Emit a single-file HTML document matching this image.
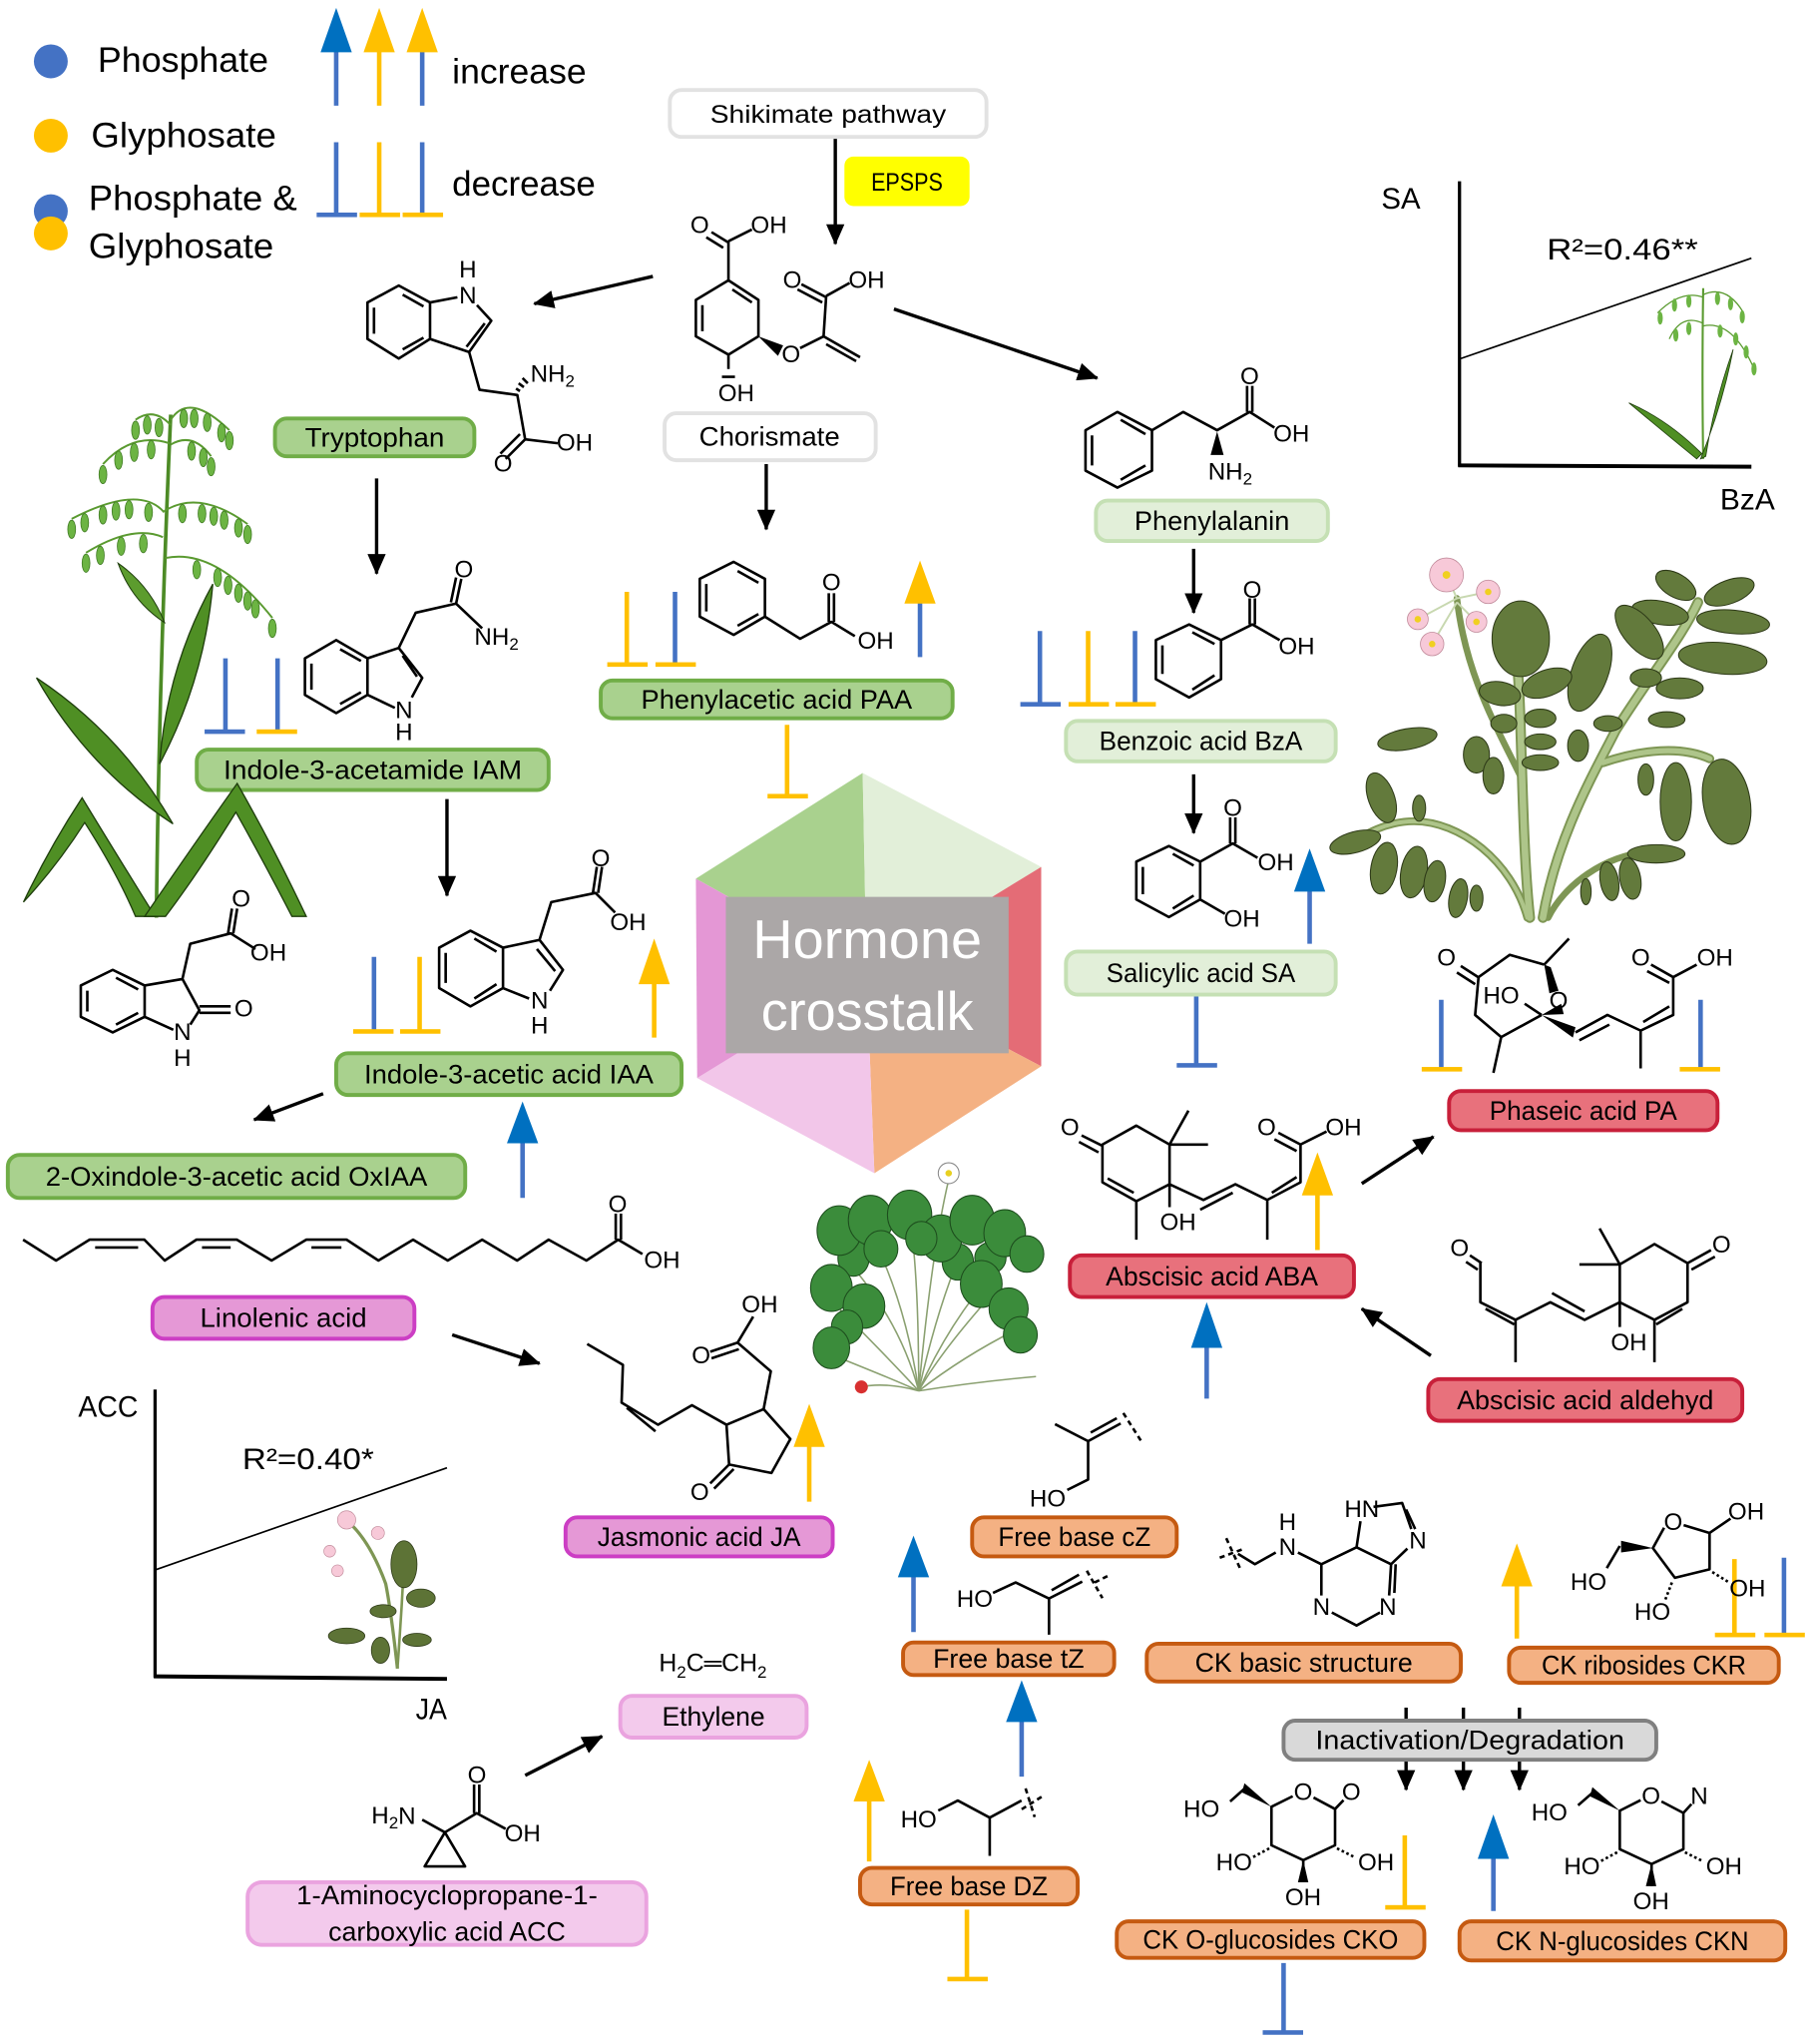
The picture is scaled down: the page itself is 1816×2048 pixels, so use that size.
<!DOCTYPE html>
<html><head><meta charset="utf-8"><style>
html,body{margin:0;padding:0;background:#fff}
svg{display:block}
text{font-family:"Liberation Sans",sans-serif;fill:#000}
</style></head><body>
<svg width="1816" height="2048" viewBox="0 0 1390.5 1568" xmlns="http://www.w3.org/2000/svg">
<defs>
<marker id="ah" markerWidth="16" markerHeight="14" refX="15" refY="7" orient="auto" markerUnits="userSpaceOnUse"><path d="M0,0 L16,7 L0,14 Z" fill="#000"/></marker>
</defs>
<rect width="1390.5" height="1568" fill="#fff"/>

<!-- ===== LEGEND ===== -->
<circle cx="39" cy="47" r="13" fill="#4472c4"/>
<circle cx="39" cy="104" r="13" fill="#ffc000"/>
<circle cx="39" cy="162" r="13" fill="#4472c4"/>
<circle cx="39" cy="179" r="13" fill="#ffc000"/>
<g font-size="27">
<text x="75" y="55" textLength="131" lengthAdjust="spacingAndGlyphs">Phosphate</text>
<text x="70" y="113" textLength="142" lengthAdjust="spacingAndGlyphs">Glyphosate</text>
<text x="68" y="161" textLength="160" lengthAdjust="spacingAndGlyphs">Phosphate &amp;</text>
<text x="68" y="198" textLength="142" lengthAdjust="spacingAndGlyphs">Glyphosate</text>
<text x="347" y="64" textLength="103" lengthAdjust="spacingAndGlyphs">increase</text>
<text x="347" y="150" textLength="110" lengthAdjust="spacingAndGlyphs">decrease</text>
</g>

<g stroke-width="3.5">
<line x1="258" y1="38" x2="258" y2="81" stroke="#4472c4"/><polygon points="246,40 270,40 258,6" fill="#0070c0"/>
<line x1="291" y1="38" x2="291" y2="81" stroke="#ffc000"/><polygon points="279,40 303,40 291,6" fill="#ffc000"/>
<line x1="324" y1="38" x2="324" y2="81" stroke="#4472c4"/><polygon points="312,40 336,40 324,6" fill="#ffc000"/>
<line x1="258" y1="109" x2="258" y2="164" stroke="#4472c4"/><rect x="243" y="163" width="31" height="3.5" fill="#4472c4" stroke="none"/>
<line x1="291" y1="109" x2="291" y2="164" stroke="#ffc000"/><rect x="276" y="163" width="31" height="3.5" fill="#ffc000" stroke="none"/>
<line x1="324" y1="109" x2="324" y2="164" stroke="#4472c4"/><rect x="309" y="163" width="31" height="3.5" fill="#ffc000" stroke="none"/>

<line x1="706" y1="460" x2="706" y2="504" stroke="#4472c4"/><polygon points="694,463 718,463 706,430" fill="#ffc000"/>
<line x1="1005" y1="682" x2="1005" y2="724" stroke="#4472c4"/><polygon points="993,684 1017,684 1005,651" fill="#0070c0"/>
<line x1="502" y1="753" x2="502" y2="796" stroke="#ffc000"/><polygon points="490,755 514,755 502,720" fill="#ffc000"/>
<line x1="401" y1="875" x2="401" y2="919" stroke="#4472c4"/><polygon points="389,877 413,877 401,845" fill="#0070c0"/>
<line x1="1011" y1="915" x2="1011" y2="959" stroke="#ffc000"/><polygon points="999,917 1023,917 1011,884" fill="#ffc000"/>
<line x1="926" y1="1032" x2="926" y2="1073" stroke="#4472c4"/><polygon points="914,1034 938,1034 926,999" fill="#0070c0"/>
<line x1="621" y1="1108" x2="621" y2="1152" stroke="#ffc000"/><polygon points="609,1110 633,1110 621,1077" fill="#ffc000"/>
<line x1="701" y1="1208" x2="701" y2="1252" stroke="#4472c4"/><polygon points="689,1210 713,1210 701,1178" fill="#0070c0"/>
<line x1="784" y1="1319" x2="784" y2="1363" stroke="#4472c4"/><polygon points="772,1321 796,1321 784,1289" fill="#0070c0"/>
<line x1="667" y1="1380" x2="667" y2="1428" stroke="#ffc000"/><polygon points="655,1382 679,1382 667,1350" fill="#ffc000"/>
<line x1="1164" y1="1215" x2="1164" y2="1257" stroke="#ffc000"/><polygon points="1152,1217 1176,1217 1164,1184" fill="#ffc000"/>
<line x1="1146" y1="1424" x2="1146" y2="1466" stroke="#4472c4"/><polygon points="1134,1426 1158,1426 1146,1392" fill="#0070c0"/>

<line x1="173" y1="505" x2="173" y2="561" stroke="#4472c4"/><rect x="157" y="559.5" width="31" height="3.5" fill="#4472c4" stroke="none"/>
<line x1="213" y1="505" x2="213" y2="561" stroke="#4472c4"/><rect x="197" y="559.5" width="31" height="3.5" fill="#ffc000" stroke="none"/>
<line x1="481" y1="454" x2="481" y2="510" stroke="#ffc000"/><rect x="466" y="508" width="31" height="3.5" fill="#ffc000" stroke="none"/>
<line x1="518" y1="454" x2="518" y2="510" stroke="#4472c4"/><rect x="503" y="508" width="31" height="3.5" fill="#ffc000" stroke="none"/>
<line x1="604" y1="556" x2="604" y2="611" stroke="#ffc000"/><rect x="589" y="609" width="31" height="3.5" fill="#ffc000" stroke="none"/>
<line x1="798" y1="484" x2="798" y2="540" stroke="#4472c4"/><rect x="783" y="538.5" width="31" height="3.5" fill="#4472c4" stroke="none"/>
<line x1="835" y1="484" x2="835" y2="540" stroke="#ffc000"/><rect x="820" y="538.5" width="31" height="3.5" fill="#ffc000" stroke="none"/>
<line x1="871" y1="484" x2="871" y2="540" stroke="#4472c4"/><rect x="856" y="538.5" width="31" height="3.5" fill="#ffc000" stroke="none"/>
<line x1="287" y1="734" x2="287" y2="791" stroke="#4472c4"/><rect x="271" y="789.5" width="31" height="3.5" fill="#ffc000" stroke="none"/>
<line x1="322" y1="734" x2="322" y2="791" stroke="#ffc000"/><rect x="307" y="789.5" width="31" height="3.5" fill="#ffc000" stroke="none"/>
<line x1="918" y1="763" x2="918" y2="817" stroke="#4472c4"/><rect x="903" y="815.5" width="31" height="3.5" fill="#4472c4" stroke="none"/>
<line x1="1106" y1="767" x2="1106" y2="820" stroke="#4472c4"/><rect x="1091" y="818.5" width="31" height="3.5" fill="#ffc000" stroke="none"/>
<line x1="1305" y1="767" x2="1305" y2="820" stroke="#4472c4"/><rect x="1289" y="818.5" width="31" height="3.5" fill="#ffc000" stroke="none"/>
<line x1="742" y1="1465" x2="742" y2="1518" stroke="#ffc000"/><rect x="727" y="1516.5" width="31" height="3.5" fill="#ffc000" stroke="none"/>
<line x1="1078" y1="1408" x2="1078" y2="1463" stroke="#ffc000"/><rect x="1063" y="1461.5" width="31" height="3.5" fill="#ffc000" stroke="none"/>
<line x1="985" y1="1506" x2="985" y2="1559" stroke="#4472c4"/><rect x="969" y="1557.5" width="31" height="3.5" fill="#4472c4" stroke="none"/>
<line x1="1331" y1="1196" x2="1331" y2="1254" stroke="#ffc000"/><rect x="1316" y="1252.5" width="31" height="3.5" fill="#ffc000" stroke="none"/>
<line x1="1369" y1="1195" x2="1369" y2="1254" stroke="#4472c4"/><rect x="1354" y="1252.5" width="31" height="3.5" fill="#ffc000" stroke="none"/>
</g>

<!-- ===== BLACK ARROWS ===== -->
<g stroke="#000" stroke-width="2.6" fill="none" marker-end="url(#ah)">
<line x1="641" y1="105" x2="641" y2="187"/>
<line x1="501" y1="212" x2="410" y2="233"/>
<line x1="686" y1="237" x2="842" y2="290"/>
<line x1="289" y1="367" x2="289" y2="440"/>
<line x1="588" y1="356" x2="588" y2="406"/>
<line x1="916" y1="421" x2="916" y2="470"/>
<line x1="343" y1="613" x2="343" y2="687"/>
<line x1="916" y1="594" x2="916" y2="639"/>
<line x1="248" y1="839" x2="195" y2="859"/>
<line x1="347" y1="1024" x2="414" y2="1046"/>
<line x1="1045" y1="908" x2="1100" y2="872"/>
<line x1="1098" y1="1040" x2="1045" y2="1004"/>
<line x1="403" y1="1362" x2="462" y2="1332"/>
<line x1="1079" y1="1345" x2="1079" y2="1373"/>
<line x1="1123" y1="1345" x2="1123" y2="1373"/>
<line x1="1166" y1="1345" x2="1166" y2="1373"/>
</g>
<g stroke="#000" stroke-width="2.6">
<line x1="1079" y1="1310" x2="1079" y2="1322"/>
<line x1="1123" y1="1310" x2="1123" y2="1322"/>
<line x1="1166" y1="1310" x2="1166" y2="1322"/>
</g>

<!-- ===== HEXAGON ===== -->
<g>
<polygon points="662,593 534,674 665,747" fill="#a9d18e"/>
<polygon points="662,593 799,665 665,747" fill="#e2efd9"/>
<polygon points="799,665 799,818 665,747" fill="#e46c76"/>
<polygon points="799,818 671,900 665,747" fill="#f4b183"/>
<polygon points="671,900 535,827 665,747" fill="#f2c6e9"/>
<polygon points="535,827 534,674 665,747" fill="#e497d5"/>
<rect x="557" y="688" width="217" height="120" fill="#aba7a7"/>
<text x="665.5" y="735" font-size="42" text-anchor="middle" textLength="176" lengthAdjust="spacingAndGlyphs" style="fill:#fff">Hormone</text>
<text x="665.5" y="790" font-size="42" text-anchor="middle" textLength="163" lengthAdjust="spacingAndGlyphs" style="fill:#fff">crosstalk</text>
</g>

<!-- ===== LABEL BOXES ===== -->
<g stroke-width="3">
<rect x="514" y="69" width="243" height="36" rx="9" fill="#fff" stroke="#e2e2e2"/>
<rect x="648" y="120" width="96" height="38" rx="7" fill="#ffff00" stroke="none"/>
<rect x="510" y="317" width="162" height="36" rx="9" fill="#fff" stroke="#e2e2e2"/>
<rect x="211" y="321" width="153" height="29" rx="9" fill="#a9d18e" stroke="#70ad47"/>
<rect x="841" y="384" width="178" height="31" rx="9" fill="#e2efd9" stroke="#c5e0b4"/>
<rect x="461" y="522" width="270" height="29" rx="9" fill="#a9d18e" stroke="#70ad47"/>
<rect x="151" y="575" width="270" height="31" rx="9" fill="#a9d18e" stroke="#70ad47"/>
<rect x="818" y="553" width="207" height="31" rx="9" fill="#e2efd9" stroke="#c5e0b4"/>
<rect x="818" y="730" width="207" height="33" rx="9" fill="#e2efd9" stroke="#c5e0b4"/>
<rect x="1112" y="837" width="206" height="30" rx="9" fill="#e8717c" stroke="#c8203a"/>
<rect x="821" y="963" width="218" height="32" rx="9" fill="#e8717c" stroke="#c8203a"/>
<rect x="1096" y="1058" width="241" height="32" rx="9" fill="#e8717c" stroke="#c8203a"/>
<rect x="258" y="808" width="265" height="32" rx="9" fill="#a9d18e" stroke="#70ad47"/>
<rect x="6" y="886" width="351" height="33" rx="9" fill="#a9d18e" stroke="#70ad47"/>
<rect x="117" y="995" width="201" height="32" rx="9" fill="#e598d6" stroke="#cc3ec4"/>
<rect x="434" y="1164" width="205" height="30" rx="9" fill="#e598d6" stroke="#cc3ec4"/>
<rect x="476" y="1301" width="143" height="32" rx="9" fill="#f3caec" stroke="#eaa3df"/>
<rect x="190" y="1444" width="306" height="48" rx="11" fill="#f3caec" stroke="#eaa3df"/>
<rect x="746" y="1164" width="157" height="30" rx="9" fill="#f4b183" stroke="#c55a11"/>
<rect x="693" y="1260" width="162" height="25" rx="8" fill="#f4b183" stroke="#c55a11"/>
<rect x="880" y="1261" width="241" height="29" rx="9" fill="#f4b183" stroke="#c55a11"/>
<rect x="1158" y="1264" width="207" height="27" rx="9" fill="#f4b183" stroke="#c55a11"/>
<rect x="985" y="1320" width="286" height="30" rx="9" fill="#d9d9d9" stroke="#808080"/>
<rect x="660" y="1433" width="167" height="28" rx="9" fill="#f4b183" stroke="#c55a11"/>
<rect x="857" y="1474" width="236" height="28" rx="9" fill="#f4b183" stroke="#c55a11"/>
<rect x="1120" y="1474" width="250" height="30" rx="9" fill="#f4b183" stroke="#c55a11"/>
</g>
<g font-size="20.5" text-anchor="middle">
<text x="635.5" y="94" font-size="19" textLength="181" lengthAdjust="spacingAndGlyphs">Shikimate pathway</text>
<text x="696" y="146" font-size="19" textLength="55" lengthAdjust="spacingAndGlyphs">EPSPS</text>
<text x="590.5" y="342" textLength="108" lengthAdjust="spacingAndGlyphs">Chorismate</text>
<text x="287.5" y="342.5" textLength="107" lengthAdjust="spacingAndGlyphs">Tryptophan</text>
<text x="930" y="406.5" textLength="119" lengthAdjust="spacingAndGlyphs">Phenylalanin</text>
<text x="596" y="543.5" textLength="208" lengthAdjust="spacingAndGlyphs">Phenylacetic acid PAA</text>
<text x="286" y="597.5" textLength="229" lengthAdjust="spacingAndGlyphs">Indole-3-acetamide IAM</text>
<text x="921.5" y="575.5" textLength="156" lengthAdjust="spacingAndGlyphs">Benzoic acid BzA</text>
<text x="921.5" y="753.5" textLength="145" lengthAdjust="spacingAndGlyphs">Salicylic acid SA</text>
<text x="1215" y="859" textLength="144" lengthAdjust="spacingAndGlyphs">Phaseic acid PA</text>
<text x="930" y="986" textLength="163" lengthAdjust="spacingAndGlyphs">Abscisic acid ABA</text>
<text x="1216.5" y="1081" textLength="197" lengthAdjust="spacingAndGlyphs">Abscisic acid aldehyd</text>
<text x="390.5" y="831" textLength="222" lengthAdjust="spacingAndGlyphs">Indole-3-acetic acid IAA</text>
<text x="181.5" y="909.5" textLength="293" lengthAdjust="spacingAndGlyphs">2-Oxindole-3-acetic acid OxIAA</text>
<text x="217.5" y="1018" textLength="128" lengthAdjust="spacingAndGlyphs">Linolenic acid</text>
<text x="536.5" y="1186" textLength="156" lengthAdjust="spacingAndGlyphs">Jasmonic acid JA</text>
<text x="547.5" y="1324" textLength="79" lengthAdjust="spacingAndGlyphs">Ethylene</text>
<text x="343" y="1461" textLength="231" lengthAdjust="spacingAndGlyphs">1-Aminocyclopropane-1-</text>
<text x="343" y="1489" textLength="182" lengthAdjust="spacingAndGlyphs">carboxylic acid ACC</text>
<text x="824.5" y="1186" textLength="117" lengthAdjust="spacingAndGlyphs">Free base cZ</text>
<text x="774" y="1279.5" textLength="116" lengthAdjust="spacingAndGlyphs">Free base tZ</text>
<text x="1000.5" y="1282.5" textLength="167" lengthAdjust="spacingAndGlyphs">CK basic structure</text>
<text x="1261.5" y="1284.5" textLength="157" lengthAdjust="spacingAndGlyphs">CK ribosides CKR</text>
<text x="1128" y="1342" textLength="237" lengthAdjust="spacingAndGlyphs">Inactivation/Degradation</text>
<text x="743.5" y="1454" textLength="121" lengthAdjust="spacingAndGlyphs">Free base DZ</text>
<text x="975" y="1495" textLength="196" lengthAdjust="spacingAndGlyphs">CK O-glucosides CKO</text>
<text x="1245" y="1496" textLength="194" lengthAdjust="spacingAndGlyphs">CK N-glucosides CKN</text>
</g>

<!-- ===== CHEMICAL STRUCTURES (bonds) ===== -->
<g stroke="#000" stroke-width="2" fill="none" stroke-linejoin="round">
<path d="M559,185 L559,215 M559,186 L546,178 M555,190 L542,182 M559,185 L577,176
M559,215 L582,230 L582,258 L559,272 L534,258 L534,230 Z
M562,222 L577,232 M539,234 L539,254 M559,272 L559,283 M554,289 L564,289
M614,267 L632,258 L634,227 M634,228 L615,218 M631,232 L612,222 M634,227 L652,217
M632,258 L660,274 M634,264 L657,277"/>
<path d="M306,219 L330,232 L330,260 L306,275 L282,260 L282,232 Z
M287,236 L287,256 M309,226 L325,235 M309,268 L325,259
M330,232 L351,228 M366,234 L377,246 L360,270 L330,260 M372,248 L358,266
M360,270 L368,299 L397,303 L403,337 L428,340
M403,337 L388,352 M399,333 L384,348"/>
<path d="M399,300 L396,298 M402,297 L398,294 M405,294 L401,290" stroke-width="2"/>
<path d="M258,491 L282,505 L282,533 L258,547 L234,533 L234,505 Z
M239,509 L239,529 M261,498 L277,507 M261,540 L277,531
M282,505 L306,497 L324,520 L316,535 M303,543 L282,533 M309,503 L320,519
M306,497 L319,470 L350,463 L370,482 M350,463 L354,444 M346,462 L350,443"/>
<path d="M563,431 L587,444 L587,473 L563,487 L537,473 L537,444 Z
M542,448 L542,469 M566,438 L582,447 M566,480 L582,471
M587,473 L614,490 L638,477 L656,488 M640,477 L640,455 M636,477 L636,455"/>
<path d="M857.5,316 L884,330 L884,361 L857.5,374 L833,361 L833,330 Z
M838,334 L838,357 M860,322 L879,333 M860,368 L879,357
M884,330 L908,316 L934,330 L959,316 L978,328 M961,316 L961,296 M957,316 L957,296"/>
<path d="M912.5,479 L937,491 L937,521 L912.5,535 L887,521 L887,491 Z
M892,495 L892,517 M915,485 L932,494 M915,529 L932,518
M937,491 L961,479 L982,491 M963,479 L963,459 M959,479 L959,459"/>
<path d="M897,649 L921,661 L921,690 L897,703.5 L872,690 L872,661 Z
M877,665 L877,686 M900,655 L916,664 M900,697 L916,687
M921,661 L946,647 L965,658 M948,647 L948,627 M944,647 L944,627 M921,690 L940,701"/>
<path d="M337,727 L361,714 L386,727 L386,758 L361,772 L337,758 Z
M342,731 L342,754 M364,720 L381,730 M364,766 L381,755
M386,727 L414,721 L432,744 L422,760 M406,766 L386,758 M412,728 L426,745
M414,721 L423,692 L457,685 L472,700 M459,685 L462,665 M455,685 L458,665"/>
<path d="M86.5,744 L111,756 L111,780 L86.5,792 L62,780 L62,756 Z
M67,760 L67,776 M89,750 L106,759 M89,786 L106,777
M111,756 L140,751 L153,775 L146,786 M133,790 L111,780
M153,777 L177,777 M153,772 L177,772
M140,751 L146,724 L177,716 L196,728 M179,716 L182,697 M175,716 L178,697"/>
<path d="M17.7,951 L43,967 L68.7,951 L110.8,951 L126.4,967 L150.7,951 L181.8,951 L208.4,967 L235,951 L266,951 L290.4,967 L317,951 L343.6,967 L370,951 L396.8,967 L421,951 L450,967 L474.4,951 L493,962
M73,957 L106,957 M155,957 L177,957 M239,957 L262,957
M476.5,951 L476.5,931 M472.5,951 L472.5,931"/>
<path d="M450.6,1031 L478,1047 L477,1076 L505,1093 L531,1078 L557.5,1093 L586,1081 L591.5,1052 L566,1030 L578,1010
M481,1080 L503,1098
M566,1030 L545,1037 M567,1035 L546,1042
M557.5,1093 L559.5,1123.5 L592,1130 L606.5,1104 L586,1081
M559.5,1123.5 L545,1138 M563,1127 L548,1142"/>
<path d="M830,871 L846,879 M828,876 L843,884
M846,878 L872,863.5 L897.5,878 L897.5,908.5 L872,921.5 L846,907 Z
M850,904 L870,915 M897.5,878 L912,852 M897.5,878 L927,878 M872,921.5 L872,951
M897.5,908.5 L897.5,926
M897.5,908.5 L923.5,920.5 L948,908.5 L972.5,920.5 L998,907 L998,878
M921,928 L946,915 M976,915 L995,903 M972.5,920.5 L972.5,951
M998,878 L981,869 M995,883 L978,874 M998,878 L1018,868"/>
<path d="M1128,963 L1137,969 M1125,968 L1134,974
M1136,969 L1136,999 L1163,1012.5 L1189.7,999 L1216,1012.5 L1243,999
M1140,1004 L1162,1016 M1163,1012.5 L1163,1045 M1191,992 L1216,1006
M1243,999 L1243,970 L1269.6,954.4 L1295,969 L1295,999 L1269.6,1012.5 Z
M1243,970 L1227.5,942.4 M1243,970 L1212,970
M1295,969 L1313,959 M1298,974 L1316,964 M1291,1004 L1271,1016
M1269.6,1012.5 L1269.6,1045 M1243,999 L1243,1018"/>
<path d="M1121,741 L1135,750 M1118,746 L1132,755
M1134.6,749.6 L1158.6,732.5 L1185,740 M1134.6,749.6 L1132,778.6 L1152,795.6 L1183,778.6
M1185,740 L1204,720 M1152,795.6 L1146,823 M1170,770 L1183,778.6
M1209,792 L1233.5,778.6 L1259,790.6 L1284,778.6 L1284,749.6
M1212,798 L1235,786 M1259,790.6 L1259,819.6 M1261,784 L1281,772
M1284,749.6 L1267,740 M1281,754 L1264,745 M1284,749.6 L1302,740"/>
<polygon points="1185,740 1190,742 1196,760 1189,762" fill="#000" stroke="none"/>
<polygon points="1183,778.6 1209,788 1207,796" fill="#000" stroke="none"/>
<polygon points="1183,778.6 1198,770 1200,778" fill="#000" stroke="none"/>
<path d="M341.4,1405.7 L325.9,1431.8 L356.9,1431.8 Z M341.4,1405.7 L365.8,1391 L388,1403
M367.8,1391 L367.8,1369 M363.8,1391 L363.8,1369 M341.4,1405.7 L324,1396"/>
<path d="M809.6,1092.5 L835,1105.6 L860,1092 M837,1099 L857,1088 M835,1105.6 L835,1135 L819,1143"/>
<path d="M862,1084 L876,1106" stroke-dasharray="4,3"/>
<path d="M762,1222 L779.4,1214 L805,1226.3 L830.5,1213.3 M807,1220 L828,1208 M805,1226.3 L805,1254"/>
<path d="M834,1205 L846,1226 M840,1214 L852,1208" stroke-dasharray="4,3"/>
<path d="M720,1389 L735,1381.3 L759.5,1394.4 L783.9,1381.3 M759.5,1394.4 L759.5,1423.7"/>
<path d="M787,1372 L794,1394 M784,1388 L800,1378" stroke-dasharray="4,3"/>
<path d="M950,1192 L963,1200 L979,1191 M996,1191 L1014,1200 L1041,1187 L1044,1167 M1054,1156 L1076,1153 L1083,1173
M1079,1158 L1086,1173 M1080,1188 L1067.5,1200 L1041,1187 M1067.5,1200 L1066,1224 M1071,1200 L1070,1222
M1059,1237 L1041,1247 L1022,1237 M1014,1200 L1014,1224"/>
<path d="M941,1180 L952,1204 M936,1195 L955,1188" stroke-dasharray="4,3"/>
<path d="M1292,1170 L1311.9,1176 L1311.9,1203.9 L1285.3,1210.4 L1268.4,1187.6 L1277,1172
M1311.9,1176 L1328,1165 M1243,1186 L1233,1203"/>
<path d="M1314,1206 L1327,1214 M1283,1214 L1278,1227" stroke-dasharray="2,2"/>
<polygon points="1268.4,1187.6 1244,1182 1244,1191" fill="#000" stroke="none"/>
<path d="M1008,1379 L1024.5,1387.8 L1024.5,1415.6 L1000.1,1427 L975.7,1415.6 L975.7,1386.1 L992,1378
M1024.5,1387.8 L1031,1381 M1000.1,1427 L1000.1,1444 M955.8,1371.5 L944,1382"/>
<path d="M1026,1418 L1040,1425 M974,1418 L961,1425" stroke-dasharray="2,2"/>
<polygon points="975.7,1386.1 955,1368 953,1375" fill="#000" stroke="none"/>
<polygon points="1000.1,1427 996,1444 1004,1444" fill="#000" stroke="none"/>
<path d="M1275,1382 L1291.8,1390.8 L1291.8,1418.6 L1267.4,1430 L1243,1418.6 L1243,1389.1 L1259,1381
M1291.8,1390.8 L1298,1384 M1267.4,1430 L1267.4,1447 M1223,1374.5 L1211,1385"/>
<path d="M1293,1421 L1307,1428 M1241,1421 L1228,1428" stroke-dasharray="2,2"/>
<polygon points="1243,1389.1 1222,1371 1220,1378" fill="#000" stroke="none"/>
<polygon points="1267.4,1430 1263,1447 1271,1447" fill="#000" stroke="none"/>
</g>
<polygon points="582,258 601,265 597,273" fill="#000"/>
<polygon points="934,331 929,349 939,349" fill="#000"/>

<!-- ===== ATOM LABELS ===== -->
<g font-size="18.5" text-anchor="middle" dominant-baseline="central">
<text x="537" y="173">O</text><text x="590" y="173">OH</text>
<text x="607" y="272">O</text><text x="608" y="215">O</text><text x="665" y="215">OH</text>
<text x="565" y="302">OH</text>
<text x="359" y="207">H</text><text x="359" y="227">N</text>
<text x="424" y="287">NH<tspan font-size="13" dy="5">2</tspan></text>
<text x="386" y="356">O</text><text x="441" y="340">OH</text>
<text x="310" y="545">N</text><text x="310" y="562">H</text>
<text x="356" y="437">O</text><text x="381" y="489">NH<tspan font-size="13" dy="5">2</tspan></text>
<text x="638" y="447">O</text><text x="672" y="492">OH</text>
<text x="959" y="289">O</text><text x="991" y="333">OH</text>
<text x="944" y="362">NH<tspan font-size="13" dy="5">2</tspan></text>
<text x="961" y="453">O</text><text x="995" y="496">OH</text>
<text x="946" y="620">O</text><text x="979" y="662">OH</text><text x="953" y="705">OH</text>
<text x="414" y="768">N</text><text x="414" y="787">H</text>
<text x="461" y="659">O</text><text x="482" y="708">OH</text>
<text x="187" y="774">O</text><text x="140" y="792">N</text><text x="140" y="812">H</text>
<text x="185" y="690">O</text><text x="206" y="731">OH</text>
<text x="474" y="924">O</text><text x="508" y="967">OH</text>
<text x="583" y="1001">OH</text><text x="538" y="1040">O</text><text x="537" y="1145">O</text>
<text x="821" y="865">O</text><text x="904" y="938">OH</text>
<text x="972" y="865">O</text><text x="1031" y="865">OH</text>
<text x="1120" y="958">O</text><text x="1321" y="955">O</text><text x="1250" y="1030">OH</text>
<text x="1110" y="735">O</text><text x="1152" y="764">HO</text><text x="1196" y="768">O</text>
<text x="1259" y="735">O</text><text x="1316" y="735">OH</text>
<text x="302" y="1393">H<tspan font-size="13" dy="5">2</tspan><tspan dy="-5">N</tspan></text>
<text x="366" y="1362">O</text><text x="401" y="1407">OH</text>
<text x="804" y="1150">HO</text>
<text x="748" y="1227">HO</text>
<text x="705" y="1396">HO</text>
<text x="988" y="1168">H</text><text x="988" y="1187">N</text>
<text x="1045" y="1158">HN</text><text x="1088" y="1182">N</text>
<text x="1065" y="1233">N</text><text x="1014" y="1233">N</text>
<text x="1284" y="1168">O</text><text x="1340" y="1160">OH</text><text x="1341" y="1219">OH</text>
<text x="1268" y="1237">HO</text><text x="1219" y="1214">HO</text>
<text x="1000" y="1375">O</text><text x="1037" y="1375">O</text>
<text x="1056" y="1429">OH</text><text x="947" y="1429">HO</text><text x="1000" y="1456">OH</text><text x="922" y="1388">HO</text>
<text x="1267" y="1378">O</text><text x="1304" y="1378">N</text>
<text x="1323" y="1432">OH</text><text x="1214" y="1432">HO</text><text x="1267" y="1459">OH</text><text x="1189" y="1391">HO</text>
</g>
<text x="547" y="1282" font-size="19" text-anchor="middle">H<tspan font-size="13" dy="5">2</tspan><tspan dy="-5">C═CH</tspan><tspan font-size="13" dy="5">2</tspan></text>

<!-- ===== GRAPHS ===== -->
<g stroke="#000" fill="none">
<line x1="1120" y1="139" x2="1120" y2="358" stroke-width="2.5"/>
<line x1="1119" y1="357" x2="1344" y2="358" stroke-width="3"/>
<line x1="1121" y1="275" x2="1344" y2="198" stroke-width="1.3"/>
<line x1="119" y1="1066" x2="119" y2="1287" stroke-width="2.5"/>
<line x1="118" y1="1286" x2="343" y2="1288" stroke-width="3"/>
<line x1="120" y1="1204" x2="343" y2="1126" stroke-width="1.3"/>
</g>
<g font-size="23">
<text x="1060" y="160" textLength="30" lengthAdjust="spacingAndGlyphs">SA</text>
<text x="1187" y="199" textLength="116" lengthAdjust="spacingAndGlyphs">R²=0.46**</text>
<text x="1320" y="391" textLength="42" lengthAdjust="spacingAndGlyphs">BzA</text>
<text x="60" y="1087" textLength="46" lengthAdjust="spacingAndGlyphs">ACC</text>
<text x="186" y="1127" textLength="101" lengthAdjust="spacingAndGlyphs">R²=0.40*</text>
<text x="319" y="1319" textLength="24" lengthAdjust="spacingAndGlyphs">JA</text>
</g>

<!-- ===== OAT PLANT (left) ===== -->
<g>
<path d="M120,704 Q122,520 131,318" stroke="#4d8b26" stroke-width="2.8" fill="none"/>
<path d="M132.7,632 Q93,563 28,520 Q67,589 132.7,632 Z" fill="#4f8f24" stroke="#1e3d0c" stroke-width="1"/>
<path d="M122.5,586 Q157,521 163.3,448 Q128,512 122.5,586 Z" fill="#4f8f24" stroke="#1e3d0c" stroke-width="1"/>
<path d="M126.3,477.6 Q115,449 90.6,432 Q101,461 126.3,477.6 Z" fill="#5c9c2e" stroke="#1e3d0c" stroke-width="0.8"/>
<path d="M119,703 Q86,650 63,612 Q38,650 18,692 Q44,664 65,631 Q90,670 104,703 Z" fill="#4f8f24" stroke="#1e3d0c" stroke-width="1"/>
<path d="M111,703 Q150,646 182,601 Q210,650 235,703 L224,703 Q204,664 181,623 Q152,670 127,703 Z" fill="#4f8f24" stroke="#1e3d0c" stroke-width="1"/>
<g stroke="#5a9a30" stroke-width="1.5" fill="none">
<path d="M131,326 Q118,312 104,322"/>
<path d="M131,322 Q145,300 176,330"/>
<path d="M130,340 Q102,331 79,356"/>
<path d="M131,341 Q148,331 162,350"/>
<path d="M126,393 Q107,371 55,398"/>
<path d="M126,392 Q153,375 190,402"/>
<path d="M125,412 Q102,402 66,424"/>
<path d="M127,428 Q166,420 209,474"/>
</g>
<g fill="#6cb443" stroke="#3f7a22" stroke-width="0.6">
<ellipse cx="122" cy="328" rx="3" ry="7"/><ellipse cx="113" cy="326" rx="3" ry="7"/><ellipse cx="104" cy="330" rx="3" ry="7"/>
<ellipse cx="141" cy="321" rx="3" ry="7"/><ellipse cx="149" cy="321" rx="3" ry="7"/><ellipse cx="159" cy="324" rx="3" ry="7"/><ellipse cx="170" cy="332" rx="3" ry="7"/><ellipse cx="176" cy="338" rx="3" ry="7"/>
<ellipse cx="116" cy="345" rx="3" ry="7"/><ellipse cx="103" cy="347" rx="3" ry="7"/><ellipse cx="91" cy="353" rx="3" ry="7"/><ellipse cx="79" cy="364" rx="3" ry="7"/>
<ellipse cx="147" cy="346" rx="3" ry="7"/><ellipse cx="156" cy="351" rx="3" ry="7"/><ellipse cx="162" cy="358" rx="3" ry="7"/>
<ellipse cx="114" cy="393" rx="3" ry="7"/><ellipse cx="99" cy="391" rx="3" ry="7"/><ellipse cx="79" cy="395" rx="3" ry="7"/><ellipse cx="65" cy="401" rx="3" ry="7"/><ellipse cx="55" cy="406" rx="3" ry="7"/><ellipse cx="89" cy="392" rx="3" ry="7"/>
<ellipse cx="140" cy="394" rx="3" ry="7"/><ellipse cx="155" cy="394" rx="3" ry="7"/><ellipse cx="172" cy="399" rx="3" ry="7"/><ellipse cx="183" cy="405" rx="3" ry="7"/><ellipse cx="190" cy="410" rx="3" ry="7"/><ellipse cx="164" cy="396" rx="3" ry="7"/>
<ellipse cx="110" cy="417" rx="3" ry="7"/><ellipse cx="93" cy="419" rx="3" ry="7"/><ellipse cx="77" cy="426" rx="3" ry="7"/><ellipse cx="66" cy="432" rx="3" ry="7"/>
<ellipse cx="151" cy="437" rx="3" ry="7"/><ellipse cx="167" cy="443" rx="3" ry="7"/><ellipse cx="183" cy="455" rx="3" ry="7"/><ellipse cx="196" cy="467" rx="3" ry="7"/><ellipse cx="209" cy="482" rx="3" ry="7"/><ellipse cx="175" cy="449" rx="3" ry="7"/><ellipse cx="190" cy="461" rx="3" ry="7"/>
</g>
</g>

<!-- ===== SMALL OAT in SA graph ===== -->
<g>
<path d="M1307,352 Q1306,290 1307,221" stroke="#5a9a30" stroke-width="1.6" fill="none"/>
<path d="M1302,352 Q1275,330 1250,309 Q1280,322 1306,348 Z" fill="#4f8f24" stroke="#1e3d0c" stroke-width="0.6"/>
<path d="M1305,352 Q1322,310 1330,268 Q1315,310 1309,350 Z" fill="#4f8f24" stroke="#1e3d0c" stroke-width="0.6"/>
<g stroke="#5a9a30" stroke-width="1" fill="none">
<path d="M1307,228 Q1290,222 1272,240"/><path d="M1307,226 Q1325,218 1338,240"/>
<path d="M1307,248 Q1290,240 1281,260"/><path d="M1307,250 Q1330,245 1347,285"/>
</g>
<g fill="#6cb443">
<ellipse cx="1296" cy="231" rx="2" ry="5"/><ellipse cx="1285" cy="234" rx="2" ry="5"/><ellipse cx="1274" cy="244" rx="2" ry="5"/>
<ellipse cx="1318" cy="229" rx="2" ry="5"/><ellipse cx="1328" cy="233" rx="2" ry="5"/><ellipse cx="1337" cy="243" rx="2" ry="5"/>
<ellipse cx="1296" cy="252" rx="2" ry="5"/><ellipse cx="1286" cy="257" rx="2" ry="5"/>
<ellipse cx="1320" cy="254" rx="2" ry="5"/><ellipse cx="1332" cy="260" rx="2" ry="5"/><ellipse cx="1340" cy="270" rx="2" ry="5"/><ellipse cx="1346" cy="283" rx="2" ry="5"/>
</g>
</g>

<!-- ===== POTATO (right) ===== -->
<g>
<g stroke="#7e9654" fill="none" stroke-linecap="round">
<path d="M1174,704 C1168,650 1168,560 1165,518" stroke-width="8"/>
<path d="M1169,600 C1150,560 1125,520 1118,459" stroke-width="5"/>
<path d="M1184,704 C1195,640 1225,590 1240,560 C1265,520 1290,490 1303,462" stroke-width="8"/>
<path d="M1230,585 C1260,575 1290,572 1312,582" stroke-width="7"/>
<path d="M1172,704 C1160,660 1120,630 1085,630 C1065,630 1045,640 1038,648" stroke-width="6"/>
<path d="M1188,704 C1200,680 1230,655 1270,653" stroke-width="5"/>
</g>
<g stroke="#aec58a" fill="none" stroke-linecap="round">
<path d="M1174,704 C1168,650 1168,560 1165,518" stroke-width="5"/>
<path d="M1184,704 C1195,640 1225,590 1240,560 C1265,520 1290,490 1303,462" stroke-width="5"/>
<path d="M1230,585 C1260,575 1290,572 1312,582" stroke-width="4"/>
<path d="M1172,704 C1160,660 1120,630 1085,630 C1065,630 1045,640 1038,648" stroke-width="3"/>
</g>
<g fill="#637a3c" stroke="#2e3a18" stroke-width="0.8">
<ellipse cx="1286" cy="449" rx="17" ry="9" transform="rotate(30 1286 449)"/>
<ellipse cx="1327" cy="454" rx="20" ry="9" transform="rotate(-20 1327 454)"/>
<ellipse cx="1274" cy="470" rx="22" ry="9" transform="rotate(10 1274 470)"/>
<ellipse cx="1330" cy="477" rx="28" ry="9" transform="rotate(5 1330 477)"/>
<ellipse cx="1258" cy="485" rx="25" ry="12" transform="rotate(50 1258 485)"/>
<ellipse cx="1322" cy="505" rx="34" ry="12" transform="rotate(5 1322 505)"/>
<ellipse cx="1220" cy="516" rx="14" ry="31" transform="rotate(20 1220 516)"/>
<ellipse cx="1167" cy="490" rx="22" ry="29"/>
<ellipse cx="1187" cy="524" rx="20" ry="10" transform="rotate(-20 1187 524)"/>
<ellipse cx="1151" cy="532" rx="16" ry="9" transform="rotate(10 1151 532)"/>
<ellipse cx="1263" cy="520" rx="12" ry="7"/>
<ellipse cx="1289" cy="528" rx="18" ry="8"/>
<ellipse cx="1182" cy="551" rx="12" ry="7"/>
<ellipse cx="1154" cy="555" rx="10" ry="7"/>
<ellipse cx="1279" cy="552" rx="14" ry="6"/>
<ellipse cx="1080" cy="567" rx="23" ry="8" transform="rotate(-10 1080 567)"/>
<ellipse cx="1234" cy="555" rx="11" ry="6"/>
<ellipse cx="1211" cy="572" rx="8" ry="12"/>
<ellipse cx="1182" cy="569" rx="12" ry="6"/>
<ellipse cx="1133" cy="579" rx="10" ry="14"/>
<ellipse cx="1146" cy="595" rx="8" ry="14"/>
<ellipse cx="1182" cy="585" rx="14" ry="6"/>
<ellipse cx="1286" cy="615" rx="12" ry="30"/>
<ellipse cx="1325" cy="615" rx="18" ry="33" transform="rotate(-10 1325 615)"/>
<ellipse cx="1263" cy="598" rx="6" ry="12"/>
<ellipse cx="1060" cy="612" rx="10" ry="20" transform="rotate(-20 1060 612)"/>
<ellipse cx="1089" cy="620" rx="5" ry="10"/>
<ellipse cx="1040" cy="646" rx="20" ry="8" transform="rotate(-15 1040 646)"/>
<ellipse cx="1062" cy="666" rx="10" ry="20" transform="rotate(10 1062 666)"/>
<ellipse cx="1085" cy="669" rx="10" ry="20" transform="rotate(10 1085 669)"/>
<ellipse cx="1101" cy="676" rx="8" ry="16" transform="rotate(10 1101 676)"/>
<ellipse cx="1119" cy="689" rx="7" ry="15" transform="rotate(10 1119 689)"/>
<ellipse cx="1133" cy="689" rx="5" ry="10"/>
<ellipse cx="1271" cy="655" rx="22" ry="7"/>
<ellipse cx="1235" cy="676" rx="7" ry="15" transform="rotate(-10 1235 676)"/>
<ellipse cx="1251" cy="674" rx="8" ry="16" transform="rotate(-10 1251 674)"/>
<ellipse cx="1217" cy="684" rx="4" ry="10"/>
</g>
<g stroke="#c8d8b0" stroke-width="1.5" fill="none">
<path d="M1118,459 L1110,441 M1118,459 L1142,454 M1118,459 L1088,475 M1118,462 L1133,477 M1118,462 L1099,494"/>
</g>
<g fill="#f7c9d8" stroke="#c08a9a" stroke-width="0.6">
<circle cx="1110" cy="441" r="13"/><circle cx="1142" cy="454" r="9"/><circle cx="1088" cy="475" r="8"/><circle cx="1133" cy="477" r="8"/><circle cx="1099" cy="494" r="9"/>
</g>
<g fill="#f0d020"><circle cx="1110" cy="441" r="3"/><circle cx="1142" cy="454" r="2.5"/><circle cx="1088" cy="475" r="2.5"/><circle cx="1133" cy="477" r="2.5"/><circle cx="1099" cy="494" r="2.5"/></g>
</g>

<!-- ===== STRAWBERRY ===== -->
<g>
<g stroke="#8aa070" stroke-width="1.2" fill="none">
<path d="M705,1067 Q690,1010 644,960"/><path d="M705,1067 Q695,1000 670,950"/><path d="M705,1067 Q705,990 700,948"/>
<path d="M705,1067 Q720,1000 740,955"/><path d="M705,1067 Q730,1010 772,965"/><path d="M705,1067 Q680,1040 640,1000"/>
<path d="M705,1067 Q720,1040 755,1000"/><path d="M705,1067 Q715,960 728,905"/><path d="M705,1067 Q750,1060 795,1056"/>
<path d="M705,1067 Q680,1060 660,1064"/><path d="M705,1067 Q690,1060 640,1040"/><path d="M705,1067 Q740,1040 780,1020"/>
</g>
<g fill="#3b8c3b" stroke="#1d4d1d" stroke-width="0.8">
<ellipse cx="655" cy="965" rx="12" ry="14"/><ellipse cx="735" cy="968" rx="12" ry="14"/><ellipse cx="760" cy="965" rx="12" ry="12"/>
<ellipse cx="644" cy="944" rx="17" ry="19"/><ellipse cx="668" cy="936" rx="17" ry="19"/><ellipse cx="698" cy="932" rx="17" ry="19"/>
<ellipse cx="722" cy="950" rx="16" ry="18"/><ellipse cx="746" cy="936" rx="17" ry="19"/><ellipse cx="771" cy="946" rx="16" ry="18"/>
<ellipse cx="788" cy="962" rx="13" ry="14"/><ellipse cx="638" cy="988" rx="16" ry="18"/><ellipse cx="663" cy="1002" rx="16" ry="17"/>
<ellipse cx="650" cy="1018" rx="12" ry="13"/><ellipse cx="638" cy="1034" rx="14" ry="16"/><ellipse cx="753" cy="985" rx="16" ry="18"/>
<ellipse cx="774" cy="1004" rx="15" ry="16"/><ellipse cx="783" cy="1024" rx="13" ry="14"/><ellipse cx="676" cy="958" rx="13" ry="14"/>
<ellipse cx="707" cy="950" rx="12" ry="13"/>
</g>
<circle cx="728" cy="900" r="8" fill="#fff" stroke="#888" stroke-width="0.8"/><circle cx="728" cy="900" r="2.5" fill="#e8d020"/>
<circle cx="661" cy="1064" r="5" fill="#d83030"/>
</g>

<!-- ===== SMALL POTATO in ACC graph ===== -->
<g>
<path d="M305,1280 Q300,1235 296,1215 Q285,1185 270,1170" stroke="#7e9654" stroke-width="2.5" fill="none"/>
<path d="M305,1280 Q308,1240 310,1200" stroke="#7e9654" stroke-width="2" fill="none"/>
<g fill="#5d7336" stroke="#2e3a18" stroke-width="0.6">
<ellipse cx="310" cy="1200" rx="10" ry="18"/><ellipse cx="323" cy="1226" rx="11" ry="7"/><ellipse cx="294" cy="1236" rx="10" ry="5"/>
<ellipse cx="266" cy="1255" rx="14" ry="6"/><ellipse cx="292" cy="1266" rx="7" ry="10"/><ellipse cx="320" cy="1258" rx="11" ry="5"/>
</g>
<g fill="#f7c9d8" stroke="#c08a9a" stroke-width="0.5"><circle cx="266" cy="1166" r="7"/><circle cx="290" cy="1176" r="5"/><circle cx="253" cy="1190" r="4.5"/><circle cx="259" cy="1205" r="4.5"/></g>
</g>
</svg>
</body></html>
